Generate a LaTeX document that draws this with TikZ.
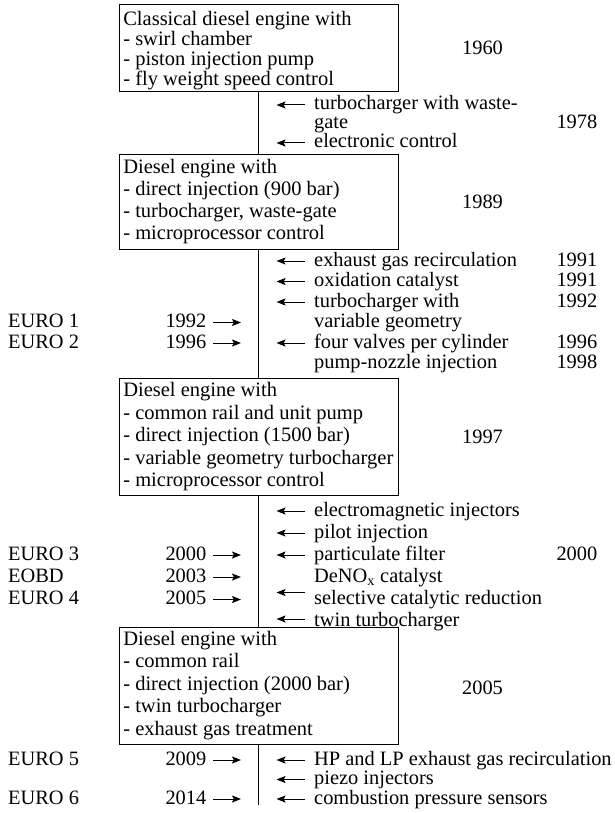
\documentclass[tikz,border=0pt]{standalone}
\usepackage{fontspec}
\setmainfont{Liberation Serif}
\usetikzlibrary{arrows.meta}
% box body: #1 height, #2 first-line height, #3 line pitch, #4 lines
\newcommand\engbox[4]{\makebox[271pt][l]{\parbox[b][#1pt][t]{330pt}{\fontsize{20.5pt}{#3pt}\selectfont\rule{0pt}{#2pt}#4}}}
\begin{document}
\begin{tikzpicture}[x=1pt,y=-1pt,
  font=\fontsize{20.4pt}{22pt}\selectfont,
  engine/.style={draw, line width=0.9pt, inner xsep=4pt, inner ysep=0pt, outer sep=0pt, anchor=north west},
  item/.style={inner sep=0pt, anchor=base west},
  yr/.style={inner sep=0pt, anchor=base east},
  lbl/.style={inner sep=0pt, anchor=base west},
  stage/.style={inner sep=0pt},
  vline/.style={line width=0.9pt},
  rarr/.style={line width=1pt, -{Stealth[length=9pt,width=7pt,inset=1.8pt]}}]
\fill[white] (0,0) rectangle (614,813);
\useasboundingbox (0,0) rectangle (614,813);

% engine generations
\node[engine] (b1) at (119.3,4.7) {\engbox{86.3}{21.3}{20}{Classical diesel engine with\\- swirl chamber\\- piston injection pump\\- fly weight speed control}};
\node[engine] (b2) at (119.3,154) {\engbox{95}{19.3}{22.2}{Diesel engine with\\- direct injection (900 bar)\\- turbocharger, waste-gate\\- microprocessor control}};
\node[engine] (b3) at (119.3,378.3) {\engbox{116.7}{18.4}{22.5}{Diesel engine with\\- common rail and unit pump\\- direct injection (1500 bar)\\- variable geometry turbocharger\\- microprocessor control}};
\node[engine] (b4) at (119.3,627.7) {\engbox{117}{17.3}{22.5}{Diesel engine with\\- common rail\\- direct injection (2000 bar)\\- twin turbocharger\\- exhaust gas treatment}};

\node[stage] (s1) at (482.5,47.9) {1960};
\node[stage] (s2) at (482.5,201.5) {1989};
\node[stage] (s3) at (482.5,436.7) {1997};
\node[stage] (s4) at (482.5,688) {2005};

% time axis
\coordinate (axend) at (258.8,805);
\draw[vline] (b1.south) -- (b2.north);
\draw[vline] (b2.south) -- (b3.north);
\draw[vline] (b3.south) -- (b4.north);
\draw[vline] (b4.south) -- (axend);

% between generation 1 and 2
\node[item] (a1) at (314,110) {turbocharger with waste-};
\node[item] (a2) at (314,129) {gate};
\node[item] (a3) at (314,148) {electronic control};
\node[yr] (ya2) at (597.5,129) {1978};
\draw[rarr] ([xshift=-9.5pt,yshift=5pt]a1.base west) -- ++(-28pt,0pt);
\draw[rarr] ([xshift=-9.5pt,yshift=5pt]a3.base west) -- ++(-28pt,0pt);

% between generation 2 and 3
\node[item] (c1) at (314,266) {exhaust gas recirculation};
\node[item] (c2) at (314,286.5) {oxidation catalyst};
\node[item] (c3) at (314,307) {turbocharger with};
\node[item] (c4) at (314,327.5) {variable geometry};
\node[item] (c5) at (314,348) {four valves per cylinder};
\node[item] (c6) at (314,368.5) {pump-nozzle injection};
\node[yr] (yc1) at (597.5,266) {1991};
\node[yr] (yc2) at (597.5,286.5) {1991};
\node[yr] (yc3) at (597.5,307) {1992};
\node[yr] (yc5) at (597.5,348) {1996};
\node[yr] (yc6) at (597.5,368.5) {1998};
\foreach \n in {c1,c2,c3,c5}
  \draw[rarr] ([xshift=-9.5pt,yshift=5pt]\n.base west) -- ++(-28pt,0pt);

\node[lbl] (eu1) at (8,327.5) {EURO 1};
\node[lbl] (eu2) at (8,348) {EURO 2};
\node[yr] (ye1) at (206.5,327.5) {1992};
\node[yr] (ye2) at (206.5,348) {1996};

% between generation 3 and 4
\node[item] (d1) at (314,516) {electromagnetic injectors};
\node[item] (d2) at (314,538) {pilot injection};
\node[item] (d3) at (314,560) {particulate filter};
\node[item] (d4) at (314,582) {DeNO\textsubscript{x} catalyst};
\node[item] (d5) at (314,604.5) {selective catalytic reduction};
\node[item] (d6) at (314,626.5) {twin turbocharger};
\node[yr] (yd3) at (597.5,560) {2000};
\foreach \n in {d1,d2,d3}
  \draw[rarr] ([xshift=-9.5pt,yshift=5pt]\n.base west) -- ++(-28pt,0pt);
\draw[rarr] ([xshift=-9.5pt,yshift=-10.5pt]d4.base west) -- ++(-28pt,0pt);
\draw[rarr] ([xshift=-9.5pt,yshift=7.5pt]d6.base west) -- ++(-28pt,0pt);

\node[lbl] (eu3) at (8,560) {EURO 3};
\node[lbl] (eobd) at (8,582) {EOBD};
\node[lbl] (eu4) at (8,604.5) {EURO 4};
\node[yr] (ye3) at (206.5,560) {2000};
\node[yr] (yeo) at (206.5,582) {2003};
\node[yr] (ye4) at (206.5,604.5) {2005};

% after generation 4
\node[item] (f1) at (314,765) {HP and LP exhaust gas recirculation};
\node[item] (f2) at (314,784.5) {piezo injectors};
\node[item] (f3) at (314,804) {combustion pressure sensors};
\foreach \n in {f1,f2,f3}
  \draw[rarr] ([xshift=-9.5pt,yshift=5pt]\n.base west) -- ++(-28pt,0pt);

\node[lbl] (eu5) at (8,765) {EURO 5};
\node[lbl] (eu6) at (8,804) {EURO 6};
\node[yr] (ye5) at (206.5,765) {2009};
\node[yr] (ye6) at (206.5,804) {2014};

% emission stages point at the axis
\foreach \n in {ye1,ye2,ye3,yeo,ye4,ye5,ye6}
  \draw[rarr] ([xshift=6.5pt,yshift=5pt]\n.base east) -- ++(28pt,0pt);
\end{tikzpicture}
\end{document}
